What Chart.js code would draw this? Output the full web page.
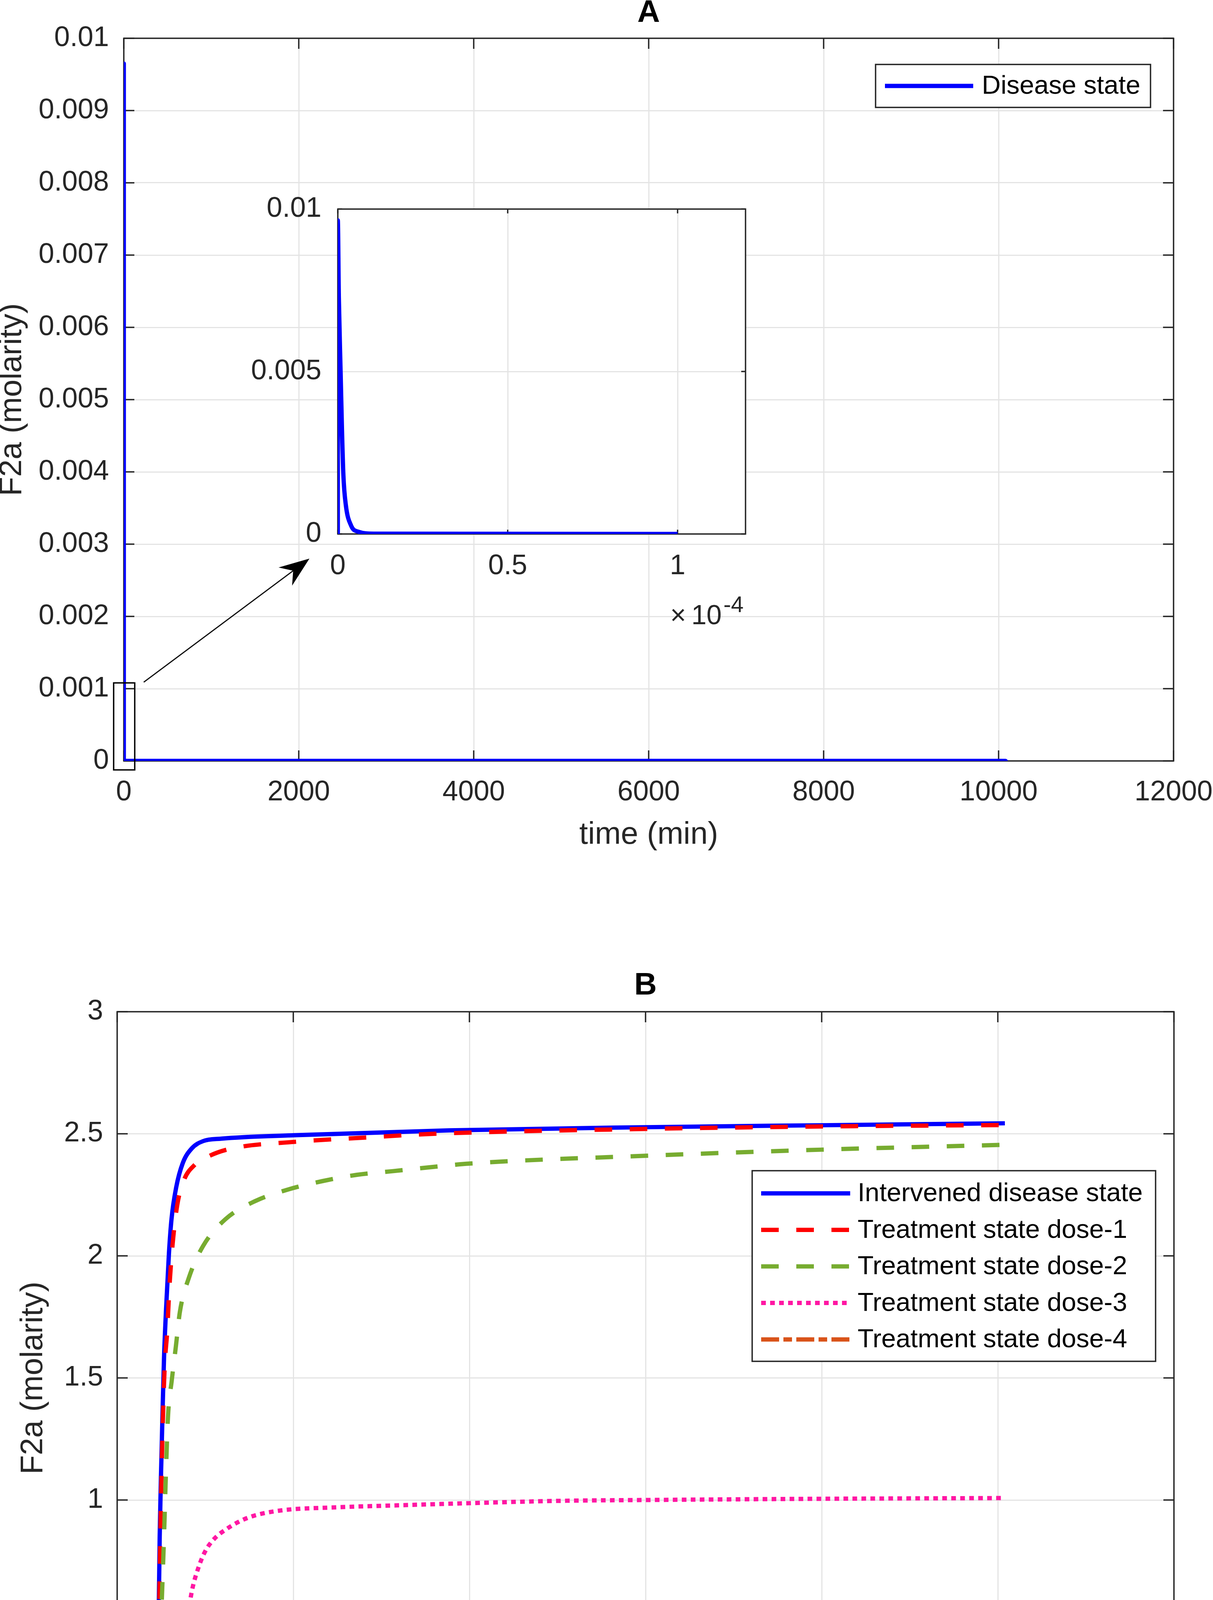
<!DOCTYPE html>
<html><head><meta charset="utf-8">
<script src="https://cdn.jsdelivr.net/npm/chart.js@4.4.1/dist/chart.umd.min.js"></script>
<style>
html,body{margin:0;padding:0;background:#fff;}
body{width:3106px;height:4703px;overflow:hidden;position:relative;}
canvas{position:absolute;display:block;}
#cA{left:0;top:0;width:3300px;height:2178px;}
#cI{left:600px;top:450px;width:1400px;height:1250px;}
#cB{left:0;top:2450px;width:3300px;height:2245px;}
</style></head><body>
<canvas id="cA" width="3300" height="2178"></canvas>
<canvas id="cB" width="3300" height="2245"></canvas>
<canvas id="cI" width="1400" height="1250"></canvas>
<script>
// ---------------- DATA ----------------
// Panel A: disease state (time in min, F2a in molarity)
const diseaseTime = [0, 0, 3e-7, 8.2e-7, 1.23e-6, 1.64e-6, 2.36e-6, 3.9e-6, 6e-6, 1.06e-5, 1e-4, 10080];
const diseaseF2a  = [0, 0.00965, 0.00728, 0.00499, 0.00318, 0.00181, 0.00089, 0.00026, 0.00007, 0.00001, 0, 0];
const insetMaxTime = 1e-4;

// Panel B
const intervenedTime = [0, 150, 300, 380, 421, 439, 457, 474, 483, 497, 514, 532, 555, 588, 617, 670, 745, 847, 976, 1180, 2000, 3770, 6000, 8000, 10080];
const intervenedF2a  = [0, 0, 0.005, 0.03, 0.064, 0.17, 0.36, 0.60, 0.85, 1.09, 1.34, 1.58, 1.78, 2.01, 2.15, 2.28, 2.38, 2.44, 2.47, 2.48, 2.494, 2.514, 2.527, 2.535, 2.543];
const dose1Time = [0, 150, 310, 390, 430, 447, 463, 480, 490, 503, 520, 540, 568, 593, 630, 683, 758, 873, 1051, 1304, 2018, 2834, 3596, 6000, 8000, 10080];
const dose1F2a  = [0, 0, 0.005, 0.03, 0.08, 0.2, 0.38, 0.62, 0.85, 1.09, 1.34, 1.55, 1.69, 1.87, 2.05, 2.21, 2.31, 2.37, 2.41, 2.44, 2.467, 2.485, 2.50, 2.52, 2.53, 2.536];
const dose2Time = [0, 150, 310, 400, 430, 457, 483, 508, 532, 552, 577, 620, 667, 712, 814, 975, 1229, 1565, 1943, 2328, 2723, 3131, 3526, 4000, 6000, 8000, 10080];
const dose2F2a  = [0, 0, 0.005, 0.03, 0.064, 0.17, 0.36, 0.60, 0.85, 1.09, 1.34, 1.49, 1.63, 1.77, 1.91, 2.04, 2.15, 2.224, 2.272, 2.306, 2.332, 2.347, 2.362, 2.378, 2.41, 2.435, 2.455];
const dose3Time = [0, 200, 400, 470, 523, 580, 630, 680, 730, 790, 850, 920, 1000, 1100, 1237, 1475, 1814, 2492, 3171, 3987, 5100, 6000, 8000, 10080];
const dose3F2a  = [0, 0, 0.005, 0.02, 0.05, 0.12, 0.21, 0.31, 0.40, 0.50, 0.63, 0.72, 0.79, 0.84, 0.88, 0.926, 0.955, 0.97, 0.978, 0.987, 0.997, 1.0, 1.005, 1.008];
const dose4Time = [0, 150, 297, 380, 452, 605, 910, 1292, 1470, 1725, 2000, 2661, 5100, 8000, 10080];
const dose4F2a  = [0, 0, 0, 0.02, 0.04, 0.055, 0.07, 0.078, 0.09, 0.10, 0.105, 0.108, 0.112, 0.113, 0.113];

const seriesLabelsB = ['Intervened disease state', 'Treatment state dose-1', 'Treatment state dose-2', 'Treatment state dose-3', 'Treatment state dose-4'];

// Axis ticks
const xTickStep = 2000, xMax = 12000;
const yStepA = 0.001, yMaxA = 0.01;
const yStepB = 0.5, yMaxB = 3;
const insetXStep = 0.5e-4, insetXMax = 1.2e-4, insetYStep = 0.005, insetYMax = 0.01;

// Annotation (zoom box + arrow) in panel A data units
const zoomBoxX = [-116, 125], zoomBoxY = [-0.000124, 0.00108];
const arrowFrom = [228, 0.00109], arrowTo = [2122, 0.0028];

// ---------------- STYLE ----------------
const FONT = "'Liberation Sans', Arial, Helvetica, sans-serif";
Chart.defaults.font.family = FONT;
const AX = '#262626';
const GRID = '#e4e4e4';
const LW = 11;
const pts = (t, v) => t.map((x, i) => ({x, y: v[i]}));

function boxTicks(tickLen) {
  return {
    id: 'boxTicks',
    beforeDatasetsDraw(chart) {
      const {ctx, chartArea: a, scales: {x, y}} = chart;
      ctx.save();
      ctx.strokeStyle = AX; ctx.lineWidth = 3.5; ctx.lineCap = 'butt';
      ctx.beginPath();
      x.ticks.forEach(t => {
        const p = x.getPixelForValue(t.value);
        ctx.moveTo(p, a.bottom); ctx.lineTo(p, a.bottom - tickLen);
        ctx.moveTo(p, a.top); ctx.lineTo(p, a.top + tickLen);
      });
      y.ticks.forEach(t => {
        const p = y.getPixelForValue(t.value);
        ctx.moveTo(a.left, p); ctx.lineTo(a.left + tickLen, p);
        ctx.moveTo(a.right, p); ctx.lineTo(a.right - tickLen, p);
      });
      ctx.stroke();
      ctx.strokeRect(a.left, a.top, a.right - a.left, a.bottom - a.top);
      ctx.restore();
    }
  };
}

function boxLegend(cfg) {
  return {
    id: 'boxLegend',
    afterDatasetsDraw(chart) {
      const {ctx, chartArea: a} = chart;
      const L = a.right - cfg.fromRight, T = a.top + cfg.fromTop;
      ctx.save();
      ctx.fillStyle = '#fff'; ctx.fillRect(L, T, cfg.w, cfg.h);
      ctx.strokeStyle = AX; ctx.lineWidth = 3.5; ctx.setLineDash([]);
      ctx.strokeRect(L, T, cfg.w, cfg.h);
      chart.data.datasets.forEach((ds, i) => {
        const cy = T + cfg.firstRow + i * cfg.rowGap;
        ctx.strokeStyle = ds.borderColor; ctx.lineWidth = ds.borderWidth;
        ctx.setLineDash(ds.borderDash || []); ctx.lineCap = 'butt';
        ctx.beginPath();
        ctx.moveTo(L + cfg.sampleLeft, cy); ctx.lineTo(L + cfg.sampleLeft + cfg.sampleW, cy);
        ctx.stroke();
        ctx.setLineDash([]);
        ctx.fillStyle = '#000'; ctx.font = `67px ${FONT}`;
        ctx.textBaseline = 'middle'; ctx.textAlign = 'left';
        ctx.fillText(ds.label, L + cfg.textLeft, cy + 2);
      });
      ctx.restore();
    }
  };
}

const zoomAnnot = {
  id: 'zoomAnnot',
  afterDatasetsDraw(chart) {
    const {ctx, scales: {x, y}} = chart;
    ctx.save();
    ctx.strokeStyle = '#000'; ctx.lineWidth = 3.5;
    const x0 = x.getPixelForValue(zoomBoxX[0]), x1 = x.getPixelForValue(zoomBoxX[1]);
    const y0 = y.getPixelForValue(zoomBoxY[0]), y1 = y.getPixelForValue(zoomBoxY[1]);
    ctx.strokeRect(x0, y1, x1 - x0, y0 - y1);
    const sx = x.getPixelForValue(arrowFrom[0]), sy = y.getPixelForValue(arrowFrom[1]);
    const tx = x.getPixelForValue(arrowTo[0]), ty = y.getPixelForValue(arrowTo[1]);
    const len = Math.hypot(tx - sx, ty - sy), dx = (tx - sx) / len, dy = (ty - sy) / len;
    const nx = -dy, ny = dx;
    const headL = 77, notch = 52, hw = 29;
    const bx = tx - dx * headL, by = ty - dy * headL;
    const qx = tx - dx * notch, qy = ty - dy * notch;
    ctx.lineWidth = 3;
    ctx.beginPath(); ctx.moveTo(sx, sy); ctx.lineTo(qx, qy); ctx.stroke();
    ctx.fillStyle = '#000';
    ctx.beginPath();
    ctx.moveTo(tx, ty); ctx.lineTo(bx + nx * hw, by + ny * hw); ctx.lineTo(qx, qy); ctx.lineTo(bx - nx * hw, by - ny * hw);
    ctx.closePath(); ctx.fill();
    ctx.restore();
  }
};

const whiteArea = {
  id: 'whiteArea',
  beforeDraw(chart) {
    const {ctx, chartArea: a} = chart;
    ctx.save(); ctx.fillStyle = '#fff';
    ctx.fillRect(a.left, a.top, a.right - a.left, a.bottom - a.top);
    ctx.restore();
  }
};

const exponentLabel = {
  id: 'exponentLabel',
  afterDraw(chart) {
    const {ctx, chartArea: a} = chart;
    ctx.save(); ctx.fillStyle = AX; ctx.textAlign = 'right'; ctx.textBaseline = 'alphabetic';
    ctx.font = `58px ${FONT}`; ctx.fillText('-4', a.right - 5, a.bottom + 200);
    ctx.font = `70px ${FONT}`; ctx.fillText('10', a.right - 61, a.bottom + 231);
    ctx.fillText('\u00d7', a.right - 152, a.bottom + 231);
    ctx.restore();
  }
};

function xScale(pad) {
  return {
    type: 'linear', min: 0, max: xMax,
    grid: {color: GRID, lineWidth: 3, drawTicks: false},
    border: {display: false},
    ticks: {stepSize: xTickStep, autoSkip: false, maxRotation: 0, color: AX,
            font: {size: 72, lineHeight: 1.2}, padding: pad, callback: v => String(v)},
    title: {display: true, text: 'time (min)', color: AX, font: {size: 80, lineHeight: 1}, padding: {top: 0, bottom: 0}},
    afterFit: s => { s.height = 230; }
  };
}

// ---------------- CHART A ----------------
new Chart(document.getElementById('cA'), {
  type: 'line',
  data: {datasets: [{
    label: 'Disease state', data: pts(diseaseTime, diseaseF2a),
    borderColor: '#0000ff', borderWidth: LW, borderDash: [], pointRadius: 0, tension: 0,
    fill: false, borderJoinStyle: 'round', borderCapStyle: 'round'
  }]},
  options: {
    responsive: false, animation: false, devicePixelRatio: 1,
    layout: {padding: {left: 0, right: 295, top: 0, bottom: 0}},
    plugins: {
      legend: {display: false}, tooltip: {enabled: false},
      title: {display: true, text: 'A', color: '#000', fullSize: false,
              font: {size: 80, weight: 'bold', lineHeight: 0.85}, padding: {top: 0, bottom: 30}}
    },
    scales: {
      x: xScale(38),
      y: {
        type: 'linear', min: 0, max: yMaxA,
        grid: {color: GRID, lineWidth: 3, drawTicks: false}, border: {display: false},
        ticks: {stepSize: yStepA, autoSkip: false, color: AX, font: {size: 72, lineHeight: 1.2}, padding: 38,
                callback: v => String(+(+v).toFixed(3))},
        title: {display: true, text: 'F2a (molarity)', color: AX, font: {size: 80, lineHeight: 0.8}, padding: {top: 0, bottom: 0}},
        afterFit: s => { s.width = 317; }
      }
    }
  },
  plugins: [boxTicks(27), zoomAnnot,
    boxLegend({fromRight: 763, fromTop: 67, w: 704, h: 110, firstRow: 55, rowGap: 0, sampleLeft: 24, sampleW: 226, textLeft: 272})]
});

// ---------------- INSET ----------------
const insetIdx = diseaseTime.map((t, i) => i).filter(i => diseaseTime[i] <= insetMaxTime);
new Chart(document.getElementById('cI'), {
  type: 'line',
  data: {datasets: [{
    label: 'Disease state', data: insetIdx.map(i => ({x: diseaseTime[i], y: diseaseF2a[i]})),
    borderColor: '#0000ff', borderWidth: LW, pointRadius: 0, fill: false,
    cubicInterpolationMode: 'monotone', borderJoinStyle: 'round', borderCapStyle: 'butt'
  }]},
  options: {
    responsive: false, animation: false, devicePixelRatio: 1,
    layout: {padding: {left: 0, right: 91, top: 78, bottom: 0}},
    plugins: {legend: {display: false}, tooltip: {enabled: false}, title: {display: false}},
    scales: {
      x: {
        type: 'linear', min: 0, max: insetXMax,
        grid: {color: GRID, lineWidth: 3, drawTicks: false}, border: {display: false},
        ticks: {stepSize: insetXStep, includeBounds: false, autoSkip: false, maxRotation: 0, color: AX,
                font: {size: 72, lineHeight: 1.2}, padding: 40, callback: v => String(+(v * 1e4).toFixed(2))},
        afterFit: s => { s.height = 333; }
      },
      y: {
        type: 'linear', min: 0, max: insetYMax,
        grid: {color: GRID, lineWidth: 3, drawTicks: false}, border: {display: false},
        ticks: {stepSize: insetYStep, autoSkip: false, color: AX, font: {size: 72, lineHeight: 1.2}, padding: 42,
                callback: v => String(+(+v).toFixed(3))},
        afterFit: s => { s.width = 265; }
      }
    }
  },
  plugins: [whiteArea, boxTicks(11), exponentLabel]
});

// ---------------- CHART B ----------------
const seriesB = [
  {t: intervenedTime, v: intervenedF2a, color: '#0000ff', dash: []},
  {t: dose1Time, v: dose1F2a, color: '#ff0000', dash: [45, 45]},
  {t: dose2Time, v: dose2F2a, color: '#77ac30', dash: [45, 45]},
  {t: dose3Time, v: dose3F2a, color: '#ff17a3', dash: [12, 11]},
  {t: dose4Time, v: dose4F2a, color: '#d95319', dash: [46, 11, 22, 11]}
];
new Chart(document.getElementById('cB'), {
  type: 'line',
  data: {datasets: seriesB.map((s, i) => ({
    label: seriesLabelsB[i], data: pts(s.t, s.v),
    borderColor: s.color, borderWidth: LW, borderDash: s.dash, pointRadius: 0,
    cubicInterpolationMode: 'monotone', fill: false, borderJoinStyle: 'round', borderCapStyle: 'butt',
    order: seriesB.length - 1 - i
  }))},
  options: {
    responsive: false, animation: false, devicePixelRatio: 1,
    layout: {padding: {left: 0, right: 294, top: 0, bottom: 0}},
    plugins: {
      legend: {display: false}, tooltip: {enabled: false},
      title: {display: true, text: 'B', color: '#000', fullSize: false,
              font: {size: 80, weight: 'bold', lineHeight: 0.85}, padding: {top: 40, bottom: 32}}
    },
    scales: {
      x: xScale(41),
      y: {
        type: 'linear', min: 0, max: yMaxB,
        grid: {color: GRID, lineWidth: 3, drawTicks: false}, border: {display: false},
        ticks: {stepSize: yStepB, autoSkip: false, color: AX, font: {size: 72, lineHeight: 1.2}, padding: 36,
                callback: v => String(+(+v).toFixed(1))},
        title: {display: true, text: 'F2a (molarity)', color: AX, font: {size: 80, lineHeight: 0.8}, padding: {top: 54, bottom: 0}},
        afterFit: s => { s.width = 300; }
      }
    }
  },
  plugins: [boxTicks(27),
    boxLegend({fromRight: 1080, fromTop: 407, w: 1033, h: 488, firstRow: 58, rowGap: 93.5, sampleLeft: 23, sampleW: 228, textLeft: 270})]
});
</script>
</body></html>
